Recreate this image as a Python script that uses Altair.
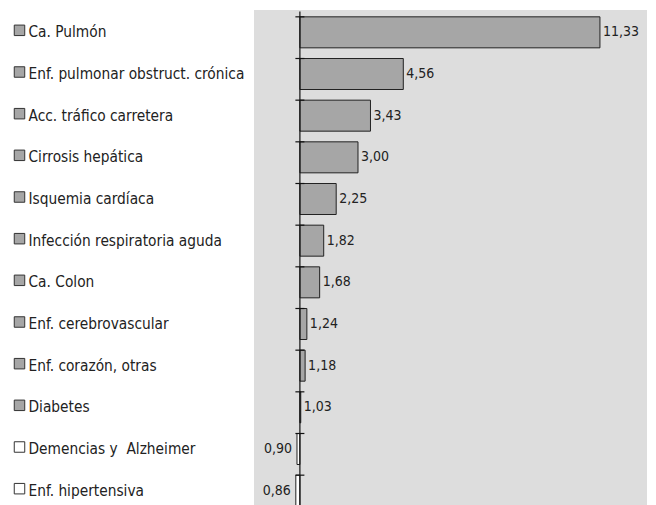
import altair as alt
import pandas as pd

categories = [
    "Ca. Pulmón",
    "Enf. pulmonar obstruct. crónica",
    "Acc. tráfico carretera",
    "Cirrosis hepática",
    "Isquemia cardíaca",
    "Infección respiratoria aguda",
    "Ca. Colon",
    "Enf. cerebrovascular",
    "Enf. corazón, otras",
    "Diabetes",
    "Demencias y\u00a0 Alzheimer",
    "Enf. hipertensiva",
]
values = [11.33, 4.56, 3.43, 3.00, 2.25, 1.82, 1.68, 1.24, 1.18, 1.03, 0.90, 0.86]
baseline = 1.0

df = pd.DataFrame({
    "cat": categories,
    "value": values,
    "label": [f"{v:.2f}".replace(".", ",") for v in values],
    "above": [v > baseline for v in values],
})

FONT = "DejaVu Sans Condensed"
FS = 15.3
FS_VAL = 14
TXT = "#222222"

xs = alt.Scale(domain=[-0.58, 12.95], nice=False, zero=False)
ys = alt.Scale(domain=categories, paddingInner=0.256, paddingOuter=0.128)
y_enc = alt.Y("cat:N", sort=categories, scale=ys, axis=None)

base = alt.Chart(df)

bg = base.mark_rect(fill="#dddddd").encode(
    x=alt.value(0), x2=alt.value(393), y=alt.value(-1.5), y2=alt.value(500)
).transform_filter("datum.cat == '" + categories[0] + "'")

bars = base.mark_bar(stroke="#222222", strokeWidth=1).encode(
    x=alt.X("value:Q", scale=xs, axis=None),
    x2=alt.datum(baseline),
    y=y_enc,
    fill=alt.condition("datum.above", alt.value("#a6a6a6"), alt.value("#ffffff")),
)

axis_line = base.mark_rule(color="#111111", strokeWidth=1.2).encode(
    x=alt.datum(baseline)
).transform_filter("datum.cat == '" + categories[0] + "'")

ticks = base.mark_rule(color="#111111", strokeWidth=1.2, xOffset=-4.5, x2Offset=4.5).encode(
    x=alt.datum(baseline),
    x2=alt.datum(baseline),
    y=alt.Y("cat:N", sort=categories, scale=ys, axis=None, bandPosition=0),
)

lab_hi = base.mark_text(align="left", baseline="middle", dx=3, font=FONT, fontSize=FS_VAL, color=TXT).encode(
    x=alt.X("value:Q", scale=xs), y=y_enc, text="label:N"
).transform_filter("datum.above")

lab_lo = base.mark_text(align="right", baseline="middle", dx=-5, font=FONT, fontSize=FS_VAL, color=TXT).encode(
    x=alt.X("value:Q", scale=xs), y=y_enc, text="label:N"
).transform_filter("!datum.above")

squares = base.mark_square(size=110, stroke="#333333", strokeWidth=1, opacity=1, yOffset=-2).encode(
    x=alt.value(-234.5),
    y=y_enc,
    fill=alt.condition("datum.above", alt.value("#a6a6a6"), alt.value("#ffffff")),
)

names = base.mark_text(align="left", baseline="middle", font=FONT, fontSize=FS, color=TXT).encode(
    x=alt.value(-225.5), y=y_enc, text="cat:N"
)

chart = alt.layer(bg, bars, axis_line, ticks, lab_hi, lab_lo, squares, names).properties(
    width=393,
    height=500,
    padding={"left": 246, "top": 3.5, "right": 1, "bottom": 0},
    autosize=alt.AutoSizeParams(type="none"),
    background="white",
).configure_view(stroke=None, fill=None)

chart.save("out.html", embed_options={"renderer": "svg", "actions": False})
